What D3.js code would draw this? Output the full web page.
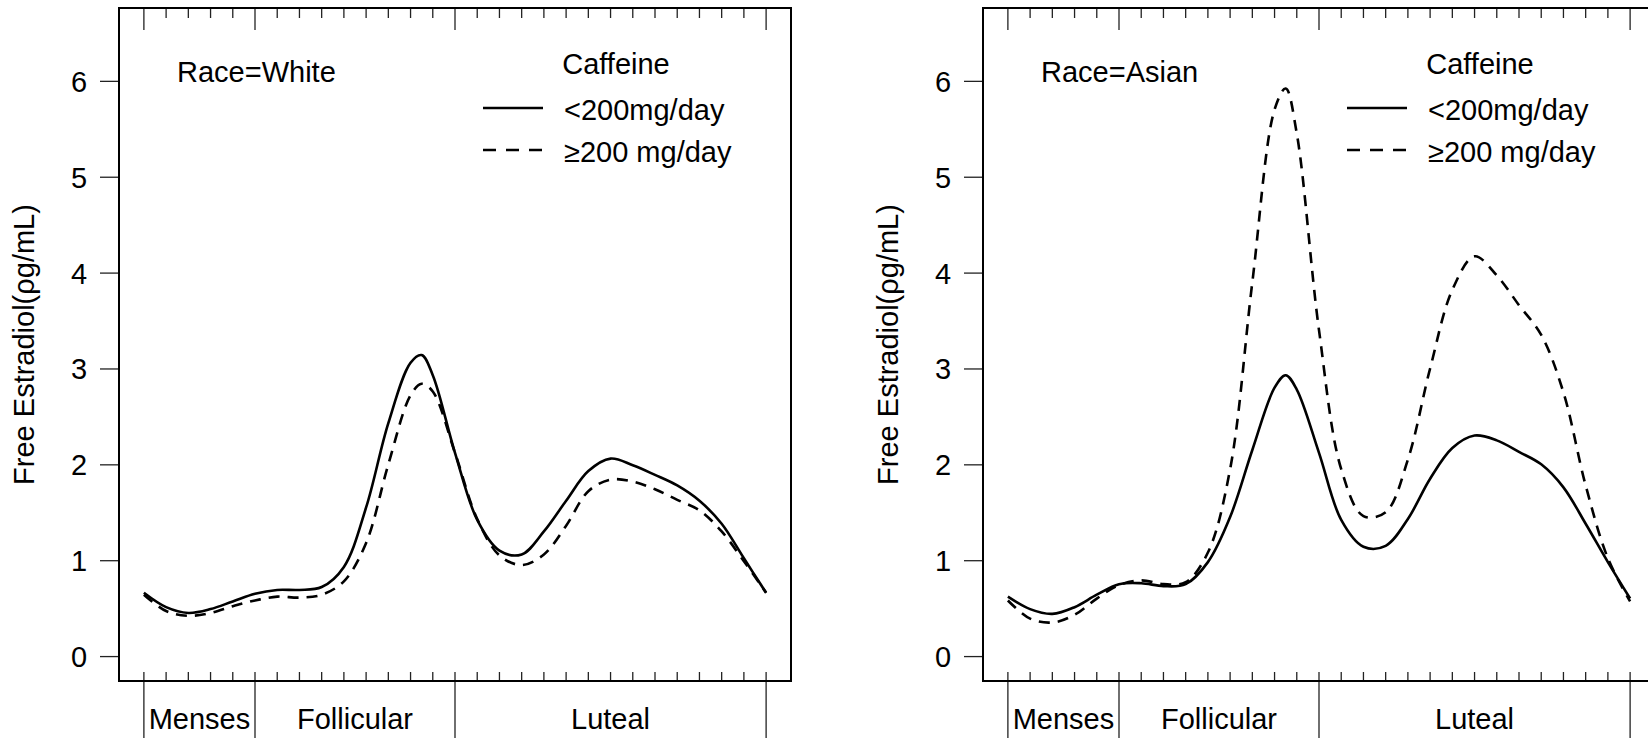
<!DOCTYPE html>
<html>
<head>
<meta charset="utf-8">
<script src="https://cdn.jsdelivr.net/npm/d3@7"></script>
<style>
  body { margin: 0; background: #fff; }
  svg text { font-family: "Liberation Sans", Arial, Helvetica, sans-serif; font-size: 29px; fill: #000; }
</style>
</head>
<body>
<script>
// data (cycle day, with an extra half day at the mid-cycle peak)

const days = [1, 2, 3, 4, 5, 6, 7, 8, 9, 10, 11, 12, 13, 13.5, 14, 15, 16, 17, 18, 19, 20, 21, 22, 23, 24, 25, 26, 27, 28, 29]

const whiteLow  = [0.66, 0.51, 0.45, 0.49, 0.57, 0.65, 0.69, 0.69, 0.72, 0.93, 1.55, 2.43, 3.06, 3.14, 2.93, 2.12, 1.42, 1.10, 1.06, 1.30, 1.62, 1.93, 2.06, 1.99, 1.89, 1.78, 1.62, 1.38, 1.02, 0.66]
const whiteHigh = [0.64, 0.47, 0.42, 0.45, 0.52, 0.58, 0.62, 0.61, 0.64, 0.78, 1.18, 2.00, 2.72, 2.84, 2.76, 2.12, 1.43, 1.05, 0.95, 1.06, 1.36, 1.72, 1.84, 1.82, 1.74, 1.63, 1.52, 1.30, 0.99, 0.66]
const asianLow  = [0.62, 0.49, 0.44, 0.51, 0.64, 0.75, 0.76, 0.73, 0.75, 0.98, 1.45, 2.15, 2.80, 2.93, 2.78, 2.12, 1.42, 1.14, 1.15, 1.43, 1.85, 2.17, 2.30, 2.25, 2.13, 2.00, 1.76, 1.38, 0.98, 0.60]
const asianHigh = [0.58, 0.39, 0.35, 0.43, 0.60, 0.74, 0.79, 0.75, 0.77, 1.08, 1.95, 3.90, 5.70, 5.92, 5.45, 3.40, 1.95, 1.46, 1.50, 2.05, 3.00, 3.82, 4.17, 3.97, 3.66, 3.35, 2.75, 1.78, 1.02, 0.57]

const yTicks = [0, 1, 2, 3, 4, 5, 6]
const dayTicks = d3.range(1, 30)
const phaseBreaks = [1, 6, 15, 29]
const phases = ["Menses", "Follicular", "Luteal"]
const legendLabels = ["<200mg/day", "\u2265200 mg/day"]

const panels = [
  { race: "Race=White", low: whiteLow, high: whiteHigh },
  { race: "Race=Asian", low: asianLow, high: asianHigh }
]

// layout

const W = 1648, H = 738
const svg = d3.select("body").append("svg")
  .attr("width", W)
  .attr("height", H)

const panelW = 864
const box = { left: 119, right: 791, top: 8, bottom: 681 }

const x = d3.scaleLinear()
  .domain([1 - 1.12, 29 + 1.12])
  .range([box.left, box.right])

const y = d3.scaleLinear()
  .domain([-0.26, 6.76])
  .range([box.bottom, box.top])

const line = d3.line()
  .x(d => x(d[0]))
  .y(d => y(d[1]))
  .curve(d3.curveCatmullRom.alpha(0.5))

const dash = "11,8"

const drawPanel = (p, i) => {
  const g = svg.append("g")
    .attr("transform", "translate(" + i * panelW + ",0)")

  // ticks on top and bottom edges, pointing inward
  const isMajor = d => phaseBreaks.includes(d)

  g.selectAll(".tick-top")
    .data(dayTicks)
  .enter().append("line")
    .attr("x1", d => x(d)).attr("x2", d => x(d))
    .attr("y1", box.top)
    .attr("y2", d => box.top + (isMajor(d) ? 22 : 10))
    .attr("stroke", "#222")
    .attr("stroke-width", 1.3)

  g.selectAll(".tick-bottom")
    .data(dayTicks)
  .enter().append("line")
    .attr("x1", d => x(d)).attr("x2", d => x(d))
    .attr("y1", d => isMajor(d) ? H : box.bottom)
    .attr("y2", box.bottom - 9)
    .attr("stroke", "#222")
    .attr("stroke-width", 1.3)

  // y axis
  const yAxis = d3.axisLeft(y)
    .tickValues(yTicks)
    .tickSize(19)
    .tickFormat(d3.format("d"))

  g.append("g")
    .attr("transform", "translate(" + box.left + ",0)")
    .call(yAxis)
    .call(a => a.select(".domain").remove())
    .call(a => a.selectAll("line").attr("stroke", "#222").attr("stroke-width", 1.3))
    .call(a => a.selectAll("text")
      .attr("x", -40)
      .attr("dy", "0.36em")
      .attr("text-anchor", "middle")
      .attr("font-family", null)
      .attr("font-size", null))

  g.append("text")
    .attr("transform", "translate(34," + (box.top + box.bottom) / 2 + ") rotate(-90)")
    .attr("text-anchor", "middle")
    .text("Free Estradiol(\u03c1g/mL)")

  // phase labels
  g.selectAll(".phase")
    .data(phases)
  .enter().append("text")
    .attr("x", (d, k) => (x(phaseBreaks[k]) + x(phaseBreaks[k + 1])) / 2)
    .attr("y", 729)
    .attr("text-anchor", "middle")
    .text(d => d)

  // curves
  g.append("path")
    .datum(days.map((d, k) => [d, p.low[k]]))
    .attr("d", line)
    .attr("fill", "none")
    .attr("stroke", "#000")
    .attr("stroke-width", 2.6)

  g.append("path")
    .datum(days.map((d, k) => [d, p.high[k]]))
    .attr("d", line)
    .attr("fill", "none")
    .attr("stroke", "#000")
    .attr("stroke-width", 2.6)
    .attr("stroke-dasharray", dash)

  // frame
  g.append("rect")
    .attr("x", box.left).attr("y", box.top)
    .attr("width", box.right - box.left)
    .attr("height", box.bottom - box.top)
    .attr("fill", "none")
    .attr("stroke", "#000")
    .attr("stroke-width", 2)

  // annotations
  g.append("text")
    .attr("x", 177)
    .attr("y", 82)
    .text(p.race)

  g.append("text")
    .attr("x", 616)
    .attr("y", 74)
    .attr("text-anchor", "middle")
    .text("Caffeine")

  const leg = g.selectAll(".legend")
    .data(legendLabels)
  .enter().append("g")
    .attr("transform", (d, k) => "translate(0," + (108 + k * 42) + ")")

  leg.append("line")
    .attr("x1", 483).attr("x2", 543)
    .attr("stroke", "#000")
    .attr("stroke-width", 2.6)
    .attr("stroke-dasharray", (d, k) => k ? "13,10" : null)

  leg.append("text")
    .attr("x", 564)
    .attr("y", 12)
    .text(d => d)
}

panels.forEach(drawPanel)
</script>
</body>
</html>
